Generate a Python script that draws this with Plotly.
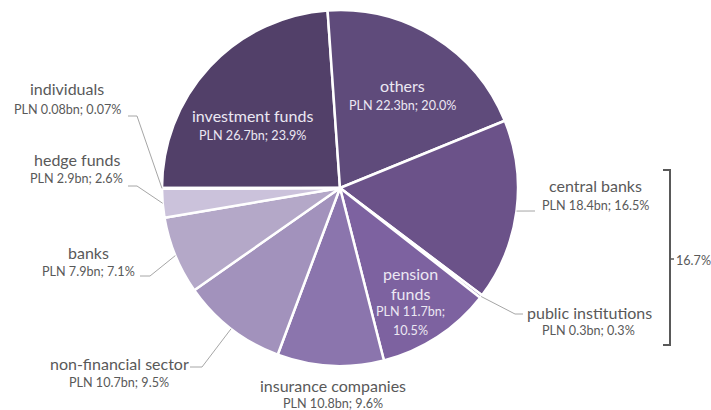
import math
import plotly.graph_objects as go

# ---- data ----
sectors = ["investment funds", "others", "central banks", "public institutions",
           "pension funds", "insurance companies", "non-financial sector",
           "banks", "hedge funds", "individuals"]
values_bn = [26.7, 22.3, 18.4, 0.3, 11.7, 10.8, 10.7, 7.9, 2.9, 0.08]
value_text = ["PLN 26.7bn; 23.9%", "PLN 22.3bn; 20.0%", "PLN 18.4bn; 16.5%",
              "PLN 0.3bn; 0.3%", "PLN 11.7bn; 10.5%", "PLN 10.8bn; 9.6%",
              "PLN 10.7bn; 9.5%", "PLN 7.9bn; 7.1%", "PLN 2.9bn; 2.6%",
              "PLN 0.08bn; 0.07%"]
bracket_label = "16.7%"

colors = ["#524069", "#5f4b7b", "#6b5289", "#7560a0", "#7d62a0", "#8b75ad",
          "#a292bc", "#b4a8c8", "#cbc2db", "#ddd6e6"]

W, H = 711, 410
CX, CY, R = 340, 188, 178
FONT = "Lato"
GREY = "#595959"
LEAD = "#a6a6a6"
NAME_SIZE = 16
VAL_SIZE = 12.6


def px(x):
    return x / W


def py(y):
    return 1 - y / H


fig = go.Figure(go.Pie(
    labels=sectors, values=values_bn, sort=False, direction="clockwise",
    rotation=-90, textinfo="none", hoverinfo="label+value",
    marker=dict(colors=colors, line=dict(color="white", width=2.5)),
    domain=dict(x=[px(CX - R), px(CX + R)], y=[py(CY + R), py(CY - R)]),
    showlegend=False,
))

# anchor points on pie edge at slice mid-angles (from data)
total = sum(values_bn)
anchors = {}
cum = 0
for s, v in zip(sectors, values_bn):
    th = math.radians(-90 + 360 * (cum + v / 2) / total)
    anchors[s] = (CX + R * math.sin(th), CY - R * math.cos(th))
    cum += v

annotations = []
shapes = []


def add_text(text, x, y, size, color, xanchor="center"):
    annotations.append(dict(text=text, x=px(x), y=py(y), xref="paper", yref="paper",
                            showarrow=False, xanchor=xanchor, yanchor="middle",
                            font=dict(family=FONT, size=size, color=color)))


# label layout: name position, value position
outside = {
    "individuals": ((67, 89), (67, 109), [(128, 116), (137, 116)]),
    "hedge funds": ((77, 159), (76, 179), [(128, 186), (137, 186)]),
    "banks": ((88, 252), (88, 271), [(140, 276), (150, 276)]),
    "non-financial sector": ((119, 363), (119, 382), [(190, 367), (202, 367)]),
    "insurance companies": ((333, 385), (333, 403), None),
    "central banks": ((595, 186), (595, 205), [(535, 211)]),
    "public institutions": ((589, 312), (588, 330), [(523, 314), (515, 314)]),
}
for s, (npos, vpos, lead) in outside.items():
    i = sectors.index(s)
    add_text(sectors[i], npos[0], npos[1], NAME_SIZE, GREY)
    add_text(value_text[i], vpos[0], vpos[1], VAL_SIZE, GREY)
    if lead:
        pts = lead + [anchors[s]]
        path = "M " + " L ".join(f"{px(a)},{py(b)}" for a, b in pts)
        shapes.append(dict(type="path", path=path, xref="paper", yref="paper",
                           line=dict(color=LEAD, width=1)))

INNER = "#ece8f3"
add_text(sectors[0], 252, 115, NAME_SIZE, INNER)
add_text(value_text[0], 252, 135, VAL_SIZE, INNER)
add_text(sectors[1], 402, 86, NAME_SIZE, INNER)
add_text(value_text[1], 402, 105, VAL_SIZE, INNER)
pv = value_text[4].split("; ")
add_text("pension", 410, 273, NAME_SIZE, INNER)
add_text("funds", 410, 293, NAME_SIZE, INNER)
add_text(pv[0] + ";", 410, 311, VAL_SIZE, INNER)
add_text(pv[1], 410, 330, VAL_SIZE, INNER)

# bracket grouping central banks + public institutions
bx = 670
shapes.append(dict(type="path", xref="paper", yref="paper",
                   path=f"M {px(663)},{py(170)} L {px(bx)},{py(170)} L {px(bx)},{py(345)} L {px(663)},{py(345)}",
                   line=dict(color=GREY, width=2)))
shapes.append(dict(type="line", xref="paper", yref="paper",
                   x0=px(bx), x1=px(674), y0=py(259), y1=py(259),
                   line=dict(color=GREY, width=1.5)))
add_text(bracket_label, 673.5, 260, 12.6, GREY, xanchor="left")

fig.update_layout(width=W, height=H, margin=dict(l=0, r=0, t=0, b=0),
                  paper_bgcolor="white", plot_bgcolor="white",
                  annotations=annotations, shapes=shapes)
fig.write_html("out.html", config={"displayModeBar": False},
               post_script="document.body.style.margin='0';document.body.style.overflow='hidden';")
